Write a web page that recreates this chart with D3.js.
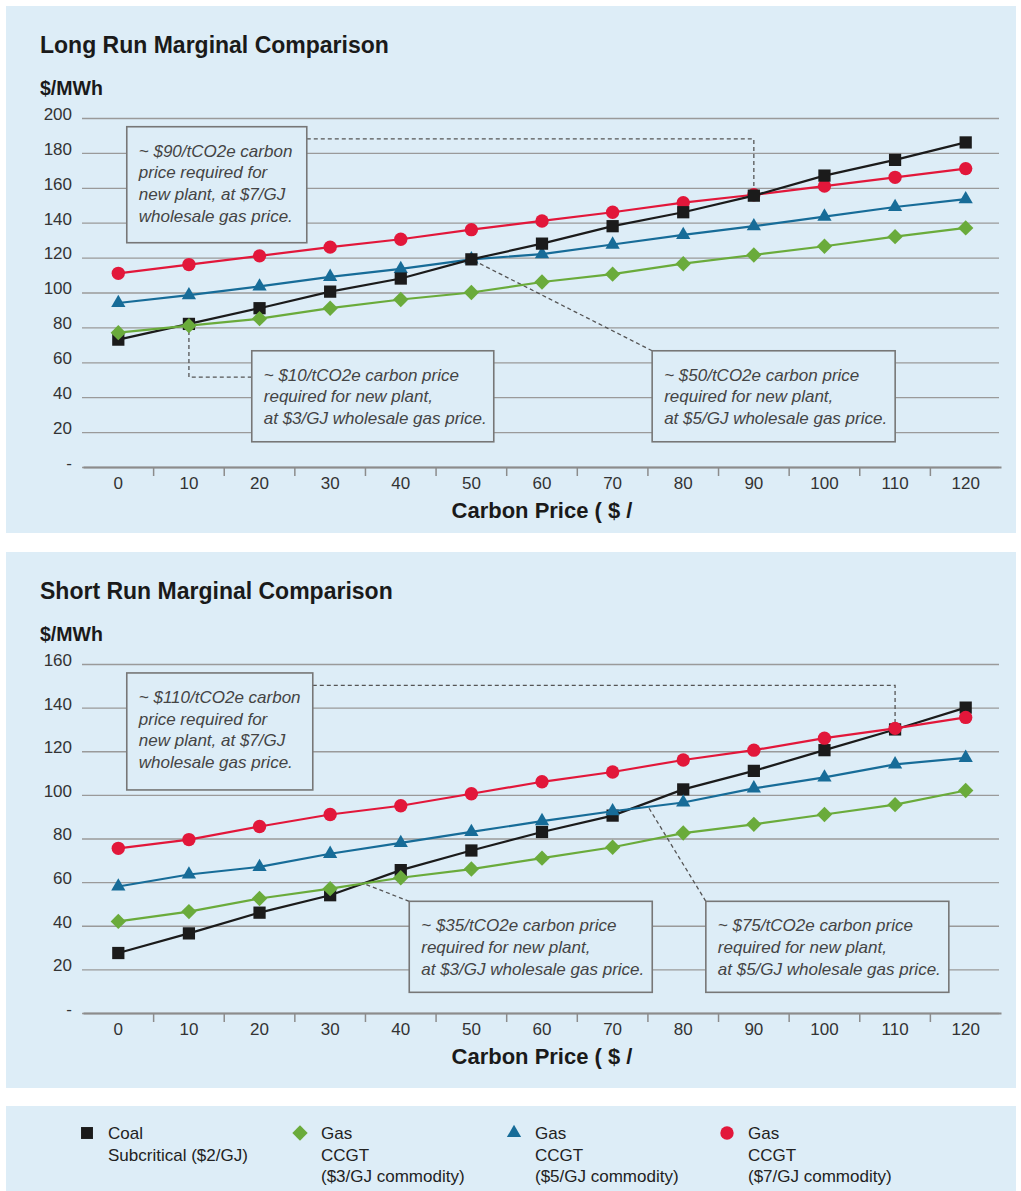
<!DOCTYPE html>
<html>
<head>
<meta charset="utf-8">
<script src="https://cdn.jsdelivr.net/npm/d3@7"></script>
<style>
  body { margin: 0; background: #ffffff; }
  svg { display: block; font-family: "Liberation Sans", Arial, Helvetica, sans-serif; }
</style>
</head>
<body>
<svg id="chart" width="1021" height="1191"></svg>
<script>
// ---- data ----------------------------------------------------------------
const carbonPrices = [0, 10, 20, 30, 40, 50, 60, 70, 80, 90, 100, 110, 120];

const longCoal  = [73, 82, 91, 100.5, 108, 119, 128, 138, 146, 155.5, 167, 176, 186];
const longGas3  = [77, 81, 85, 91, 96, 100, 106, 110.5, 116.5, 121.5, 126.5, 132, 137];
const longGas5  = [94, 98.5, 103.5, 109, 113.5, 119, 122, 127.5, 133, 138, 143.5, 149, 153.5];
const longGas7  = [111, 116, 121, 126, 130.5, 136, 141, 146, 151.5, 156, 161, 166, 171];

const shortCoal = [27.5, 36.5, 46, 54, 65.5, 74.5, 83, 90.5, 102.5, 111, 120.5, 130, 140];
const shortGas3 = [42, 46.5, 52.5, 57, 62, 66, 71, 76, 82.5, 86.5, 91, 95.5, 102];
const shortGas5 = [58, 63.5, 67, 73, 78, 83, 88, 92.5, 96.5, 103, 108, 114, 117];
const shortGas7 = [75.5, 79.5, 85.5, 91, 95, 100.5, 106, 110.5, 116, 120.5, 126, 130.5, 135.5];

const longTicks  = [0, 20, 40, 60, 80, 100, 120, 140, 160, 180, 200];
const shortTicks = [0, 20, 40, 60, 80, 100, 120, 140, 160];

const seriesNames = [
  ["Coal", "Subcritical ($2/GJ)"],
  ["Gas", "CCGT", "($3/GJ commodity)"],
  ["Gas", "CCGT", "($5/GJ commodity)"],
  ["Gas", "CCGT", "($7/GJ commodity)"]
];

const longNotes = [
  ["~ $90/tCO2e carbon", "price required for", "new plant, at $7/GJ", "wholesale gas price."],
  ["~ $10/tCO2e carbon price", "required for new plant,", "at $3/GJ wholesale gas price."],
  ["~ $50/tCO2e carbon price", "required for new plant,", "at $5/GJ wholesale gas price."]
];
const shortNotes = [
  ["~ $110/tCO2e carbon", "price required for", "new plant, at $7/GJ", "wholesale gas price."],
  ["~ $35/tCO2e carbon price", "required for new plant,", "at $3/GJ wholesale gas price."],
  ["~ $75/tCO2e carbon price", "required for new plant,", "at $5/GJ wholesale gas price."]
];

// ---- styling / layout ----------------------------------------------------
const BG = "#ddedf7";
const COLORS = ["#1b1b1b", "#6aab3b", "#176c98", "#e2173a"];
const X0 = 83, X1 = 1001;          // plot horizontal extent

const svg = d3.select("#chart");

// symbol for each series (0 coal square, 1 diamond, 2 triangle, 3 circle)
function marker(sel, k, scale = 1) {
  const sym = [d3.symbolSquare, d3.symbolSquare, d3.symbolTriangle, d3.symbolCircle][k];
  const size = [150, 118, 88, 140][k] * scale;
  sel.attr("d", d3.symbol(sym, size)())
     .attr("fill", COLORS[k]);
  return k === 1 ? 45 : 0;
}

function drawChart(spec) {
  const g = svg.append("g");

  g.append("rect")
    .attr("x", 6).attr("y", spec.panelTop)
    .attr("width", 1010).attr("height", spec.panelBottom - spec.panelTop)
    .attr("fill", BG);

  const x = d3.scaleBand().domain(carbonPrices).range([X0, X1]).padding(0);
  const y = d3.scaleLinear().domain([0, spec.yMax]).range([spec.plotBottom, spec.plotTop]);
  const bw = x.bandwidth();
  const cx = c => x(0) + bw / 2 + (c / 10) * x.step();   // continuous carbon price -> px

  // title & unit label
  g.append("text").attr("x", 40).attr("y", spec.plotTop - 65)
    .attr("font-size", 23).attr("font-weight", "bold").attr("fill", "#1a1a1a")
    .text(spec.title);
  g.append("text").attr("x", 40).attr("y", spec.plotTop - 23)
    .attr("font-size", 19.5).attr("font-weight", "bold").attr("fill", "#1a1a1a")
    .text("$/MWh");

  // y axis with gridlines
  const ya = g.append("g").attr("transform", `translate(${X0 - 1},0)`)
    .call(d3.axisLeft(y).tickValues(spec.ticks).tickSize(-(X1 - X0 - 1)).tickPadding(10)
      .tickFormat(d => d === 0 ? "-" : d));
  ya.select(".domain").remove();
  ya.selectAll(".tick line").attr("stroke", "#9a9a9a").attr("stroke-width", 1.3);
  ya.selectAll(".tick text").attr("font-size", 17).attr("fill", "#333").attr("dy", "0.08em")
    .attr("font-family", "Liberation Sans, Arial, sans-serif");

  // x axis
  const xa = g.append("g").attr("transform", `translate(0,${spec.plotBottom})`)
    .call(d3.axisBottom(x).tickSize(0).tickSizeOuter(0).tickPadding(10));
  xa.select(".domain").attr("stroke", "#8c8c8c").attr("stroke-width", 2.2);
  xa.selectAll(".tick text").attr("font-size", 17).attr("fill", "#333")
    .attr("font-family", "Liberation Sans, Arial, sans-serif");
  g.append("g").selectAll("line").data(carbonPrices.slice(1)).join("line")
    .attr("x1", d => x(d)).attr("x2", d => x(d))
    .attr("y1", spec.plotBottom).attr("y2", spec.plotBottom + 9)
    .attr("stroke", "#8c8c8c").attr("stroke-width", 1.5);

  g.append("text").attr("x", (X0 + X1) / 2).attr("y", spec.plotBottom + 51)
    .attr("text-anchor", "middle").attr("font-size", 22).attr("font-weight", "bold")
    .attr("fill", "#1a1a1a").text("Carbon Price ( $ /");

  // annotation boxes and dashed leaders
  spec.notes.forEach(n => {
    const bx = cx(n.left), by = y(n.top);
    let start;
    if (n.anchor === "right") start = [bx + n.w, y(n.at)];
    else if (n.anchor === "left") start = [bx, y(n.at)];
    else start = [bx, by];
    const pts = [start].concat(n.path.map(p => [cx(p[0]), y(p[1])]));
    g.append("path").attr("d", d3.line()(pts)).attr("fill", "none")
      .attr("stroke", "#555").attr("stroke-width", 1.3).attr("stroke-dasharray", "4,3");
    g.append("rect").attr("x", bx).attr("y", by).attr("width", n.w).attr("height", n.h)
      .attr("fill", BG).attr("stroke", "#777").attr("stroke-width", 1.6);
    g.append("text").attr("font-size", 17).attr("font-style", "italic").attr("fill", "#444")
      .selectAll("tspan").data(n.lines).join("tspan")
      .attr("x", bx + 12).attr("y", (d, i) => by + 30 + i * 21.6).text(d => d);
  });

  // series: line then markers
  const line = d3.line().x((d, i) => x(carbonPrices[i]) + bw / 2).y(d => y(d));
  spec.order.forEach(k => {
    const vals = spec.series[k];
    g.append("path").attr("d", line(vals)).attr("fill", "none")
      .attr("stroke", COLORS[k]).attr("stroke-width", 2.2);
    g.append("g").selectAll("path").data(vals).join("path")
      .each(function (d, i) {
        const rot = marker(d3.select(this), k);
        d3.select(this).attr("transform",
          `translate(${x(carbonPrices[i]) + bw / 2},${y(d)}) rotate(${rot})`);
      });
  });
}

drawChart({
  title: "Long Run Marginal Comparison",
  panelTop: 6, panelBottom: 533,
  plotTop: 118, plotBottom: 467, yMax: 200, ticks: longTicks,
  series: [longCoal, longGas3, longGas5, longGas7],
  order: [3, 2, 0, 1],
  notes: [
    { lines: longNotes[0], left: 1.2, top: 195, w: 180, h: 116, anchor: "right", at: 188,
      path: [[90, 188], [90, longCoal[9]]] },
    { lines: longNotes[1], left: 18.9, top: 66.6, w: 242, h: 91, anchor: "left", at: 51.5,
      path: [[10, 51.5], [10, longCoal[1]]] },
    { lines: longNotes[2], left: 75.6, top: 66.6, w: 243, h: 91, anchor: "topleft",
      path: [[50, longCoal[5]]] }
  ]
});

drawChart({
  title: "Short Run Marginal Comparison",
  panelTop: 552, panelBottom: 1088,
  plotTop: 664, plotBottom: 1013, yMax: 160, ticks: shortTicks,
  series: [shortCoal, shortGas3, shortGas5, shortGas7],
  order: [0, 1, 2, 3],
  notes: [
    { lines: shortNotes[0], left: 1.2, top: 155.9, w: 186, h: 117, anchor: "right", at: 150.2,
      path: [[110, 150.2], [110, shortCoal[11]]] },
    { lines: shortNotes[1], left: 41.2, top: 51.2, w: 243, h: 91, anchor: "topleft",
      path: [[35, 59]] },
    { lines: shortNotes[2], left: 83.2, top: 51.2, w: 243, h: 91, anchor: "topleft",
      path: [[75, 94.7]] }
  ]
});

// ---- legend ----------------------------------------------------------------
const lg = svg.append("g");
lg.append("rect").attr("x", 6).attr("y", 1106).attr("width", 1010).attr("height", 85).attr("fill", BG);
const legendX = [87, 300, 514, 727];
seriesNames.forEach((names, k) => {
  const p = lg.append("path");
  const rot = marker(p, k, k === 0 ? 0.95 : 1);
  p.attr("transform", `translate(${legendX[k]},${1133}) rotate(${rot})`);
  lg.append("text").attr("font-size", 17).attr("fill", "#222")
    .selectAll("tspan").data(names).join("tspan")
    .attr("x", legendX[k] + 21).attr("y", (d, i) => 1139 + i * 21.5).text(d => d);
});
</script>
</body>
</html>
